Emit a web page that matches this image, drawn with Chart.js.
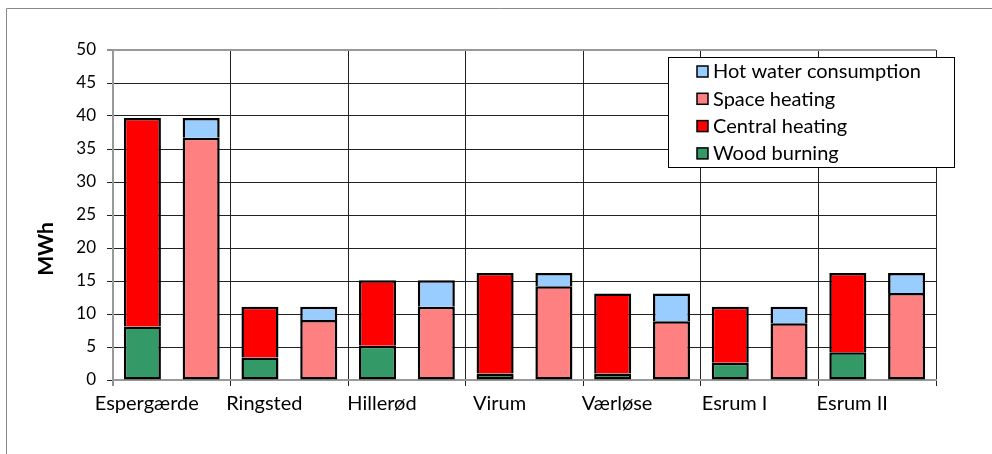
<!DOCTYPE html>
<html>
<head>
<meta charset="utf-8">
<script src="https://cdn.jsdelivr.net/npm/chart.js@4"></script>
<style>
  html, body { margin: 0; padding: 0; background: #fff; }
  #wrap { position: relative; width: 992px; height: 454px; }
</style>
</head>
<body>
<div id="wrap"><canvas id="c" width="992" height="454"></canvas></div>
<script>
const categories = ['Espergærde', 'Ringsted', 'Hillerød', 'Virum', 'Værløse', 'Esrum I', 'Esrum II'];
const woodBurning    = [8.1, 3.4, 5.2, 1.0, 1.0, 2.6, 4.2];
const centralHeating = [31.6, 7.7, 9.9, 15.2, 12.1, 8.5, 12.0];
const spaceHeating   = [36.7, 9.1, 11.1, 14.2, 8.9, 8.6, 13.2];
const hotWater       = [3.0, 2.0, 4.0, 2.0, 4.2, 2.5, 3.0];
const yTicksMax = 50, yTicksStep = 5;
const yAxisTitle = 'MWh';

const FONT = 'Lato, "Open Sans", sans-serif';

const extras = {
  id: 'extras',
  beforeDraw(chart) {
    const ctx = chart.ctx;
    ctx.save();
    ctx.strokeStyle = '#888';
    ctx.lineWidth = 1;
    ctx.beginPath();
    ctx.moveTo(6.5, 460);
    ctx.lineTo(6.5, 8.5);
    ctx.lineTo(1000, 8.5);
    ctx.stroke();
    ctx.restore();
  },
  afterDraw(chart) {
    const ctx = chart.ctx;
    ctx.save();
    // y-axis title
    ctx.translate(46, 249);
    ctx.rotate(-Math.PI / 2);
    ctx.font = 'bold 21px ' + FONT;
    ctx.fillStyle = '#000';
    ctx.textAlign = 'center';
    ctx.textBaseline = 'middle';
    ctx.fillText(yAxisTitle, 0, 0);
    ctx.restore();

    // legend (reverse order)
    ctx.save();
    const bx = 668.5, by = 57.5, bw = 286, bh = 110;
    ctx.fillStyle = '#fff';
    ctx.fillRect(bx, by, bw, bh);
    ctx.strokeStyle = '#000';
    ctx.lineWidth = 1;
    ctx.strokeRect(bx, by, bw, bh);
    const ds = chart.data.datasets.slice().reverse();
    ctx.font = '20px ' + FONT;
    ctx.textBaseline = 'middle';
    ds.forEach((d, i) => {
      const cy = 71 + i * 27.3;
      ctx.fillStyle = d.backgroundColor;
      ctx.fillRect(697, cy - 5, 11, 11);
      ctx.lineWidth = 1.5;
      ctx.strokeStyle = '#000';
      ctx.strokeRect(697, cy - 5, 11, 11);
      ctx.fillStyle = '#000';
      ctx.fillText(d.label, 713, cy + 1);
    });
    ctx.restore();
  }
};

const mk = (label, data, color, stack, bottom) => ({
  label, data, stack,
  backgroundColor: color,
  borderColor: '#000',
  borderWidth: 2.5,
  borderSkipped: bottom ? false : 'start',
  categoryPercentage: 1.0,
  barPercentage: 0.63
});

new Chart(document.getElementById('c'), {
  type: 'bar',
  data: {
    labels: categories,
    datasets: [
      mk('Wood burning', woodBurning, '#339966', 'a', true),
      mk('Central heating', centralHeating, '#FF0000', 'a', false),
      mk('Space heating', spaceHeating, '#FF8080', 'b', true),
      mk('Hot water consumption', hotWater, '#99CCFF', 'b', false)
    ]
  },
  options: {
    responsive: false,
    animation: false,
    devicePixelRatio: 1,
    layout: { padding: { left: 0, right: 56, top: 50, bottom: 0 } },
    plugins: { legend: { display: false }, tooltip: { enabled: false }, title: { display: false } },
    scales: {
      x: {
        stacked: true,
        grid: {
          offset: true,
          color: c => (c.index === 0 || c.index === categories.length) ? '#999' : '#222',
          lineWidth: c => (c.index === 0 || c.index === categories.length) ? 2 : 1,
          tickLength: 6,
          tickColor: '#222',
          tickWidth: 1
        },
        border: { color: '#999', width: 2 },
        ticks: {
          color: '#000',
          font: { family: FONT, size: 20 },
          padding: 6,
          labelOffset: -25,
          maxRotation: 0
        },
        afterFit: s => { s.height = 74; }
      },
      y: {
        stacked: true,
        min: 0,
        max: yTicksMax,
        ticks: {
          stepSize: yTicksStep,
          color: '#000',
          font: { family: FONT, size: 17 },
          padding: 11
        },
        grid: {
          color: c => (c.tick && c.tick.value === yTicksMax) ? '#999' : '#222',
          lineWidth: c => (c.tick && c.tick.value === yTicksMax) ? 2 : 1,
          tickLength: 6,
          tickColor: '#222',
          tickWidth: 1
        },
        border: { color: '#999', width: 2 },
        afterFit: s => { s.width = 113; }
      }
    }
  },
  plugins: [extras]
});
</script>
</body>
</html>
